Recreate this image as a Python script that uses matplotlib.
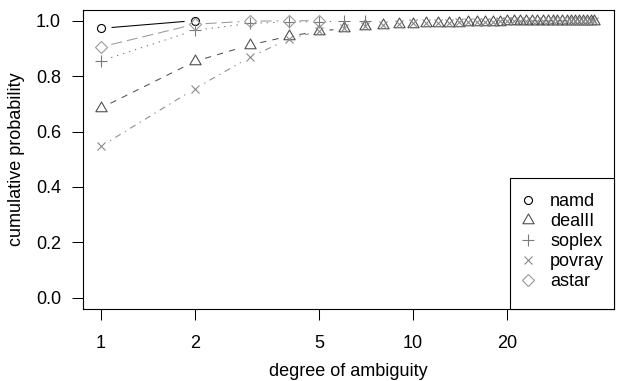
import numpy as np
import matplotlib
matplotlib.use("Agg")
import matplotlib.pyplot as plt
from matplotlib.lines import Line2D
from matplotlib.patches import Rectangle
from matplotlib.path import Path
from matplotlib.ticker import NullLocator

plt.rcParams["font.family"] = ["Liberation Sans", "DejaVu Sans"]
plt.rcParams["lines.scale_dashes"] = False

# cumulative probability per degree of ambiguity, one pair of lists per benchmark
namd_x = [1, 2]
namd_y = [0.972, 1.0]

dealii_x = [1, 2, 3, 4, 5, 6, 7, 8, 9, 10, 11, 12, 13, 14, 15, 16, 17, 18, 19,
            20, 21, 22, 23, 24, 25, 26, 27, 28, 29, 30, 31, 32, 33, 34, 35, 36, 37, 38]
dealii_y = [0.685, 0.853, 0.912, 0.944, 0.961, 0.972, 0.979, 0.983, 0.986, 0.988,
            0.990, 0.991, 0.992, 0.993, 0.994, 0.995, 0.995, 0.996, 0.996, 0.997,
            0.997, 0.997, 0.998, 0.998, 0.998, 0.998, 0.999, 0.999, 0.999, 0.999,
            0.999, 1.0, 1.0, 1.0, 1.0, 1.0, 1.0, 1.0]

soplex_x = [1, 2, 3, 4, 5, 6, 7]
soplex_y = [0.855, 0.965, 0.990, 0.995, 0.996, 0.998, 1.0]

povray_x = [1, 2, 3, 4, 5, 6, 7, 8, 9, 10, 11, 12, 13, 14, 15, 16, 17, 18, 19,
            20, 21, 22, 23, 24, 25, 26, 27, 28, 29, 30, 31, 32, 33, 34, 35, 36, 37, 38]
povray_y = [0.547, 0.755, 0.868, 0.934, 0.962, 0.974, 0.981, 0.985, 0.988, 0.990,
            0.991, 0.992, 0.993, 0.994, 0.995, 0.995, 0.996, 0.996, 0.997, 0.997,
            0.997, 0.998, 0.998, 0.998, 0.998, 0.999, 0.999, 0.999, 0.999, 0.999,
            1.0, 1.0, 1.0, 1.0, 1.0, 1.0, 1.0, 1.0]

astar_x = [1, 2, 3, 4, 5]
astar_y = [0.905, 0.987, 0.998, 0.999, 1.0]

names = ["namd", "dealII", "soplex", "povray", "astar"]
xticks = [1, 2, 5, 10, 20]
yticks = [0.0, 0.2, 0.4, 0.6, 0.8, 1.0]

# R-like point symbols (sizes in points, derived from ~10.7px symbol unit)
PX = 0.72
tri = Path([(0, 1), (-0.866, -0.5), (0.866, -0.5), (0, 1)],
           [Path.MOVETO, Path.LINETO, Path.LINETO, Path.CLOSEPOLY])
styles = [
    dict(marker="o", ms=8.0 * PX, color="#000000", dashes=None),
    dict(marker=tri, ms=13.0 * PX, color="#505050", dashes=(4.5, 4.5)),
    dict(marker="+", ms=11.3 * PX, color="#7a7a7a", dashes=(1.0, 3.5)),
    dict(marker="x", ms=8.0 * PX, color="#8a8a8a", dashes=(1.0, 3.5, 4.5, 3.5)),
    dict(marker="D", ms=8.0 * PX, color="#9a9a9a", dashes=(8.0, 3.5)),
]
series = [(namd_x, namd_y), (dealii_x, dealii_y), (soplex_x, soplex_y),
          (povray_x, povray_y), (astar_x, astar_y)]

fig = plt.figure(figsize=(6.21, 3.81), dpi=100)
ax = fig.add_axes([83 / 621, 1 - 309 / 381, (614 - 83) / 621, (309 - 9.5) / 381])
ax.set_xscale("log")
ax.set_xlim(0.875, 44.0)
ax.set_ylim(-0.04, 1.04)


def gapped_line(ax, x, y, gap, color, dashes):
    # type="b": segments between points, trimmed around each symbol
    pts = ax.transData.transform(np.column_stack([x, y]))
    inv = ax.transData.inverted()
    for p0, p1 in zip(pts[:-1], pts[1:]):
        d = p1 - p0
        L = np.hypot(d[0], d[1])
        if L <= 2 * gap:
            continue
        u = d / L
        seg = inv.transform(np.array([p0 + u * gap, p1 - u * gap]))
        kw = dict(color=color, lw=0.75, solid_capstyle="butt", dash_capstyle="butt")
        if dashes is not None:
            kw["dashes"] = dashes
        ax.plot(seg[:, 0], seg[:, 1], **kw)


for (x, y), st in zip(series, styles):
    gapped_line(ax, x, y, 10.5, st["color"], st["dashes"])
    ax.plot(x, y, linestyle="none", marker=st["marker"], ms=st["ms"],
            mfc="none", mec=st["color"], mew=0.8)

ax.set_xticks(xticks)
ax.set_xticklabels([str(t) for t in xticks])
ax.xaxis.set_minor_locator(NullLocator())
ax.set_yticks(yticks)
ax.set_yticklabels([f"{t:.1f}" for t in yticks])
ax.tick_params(length=7.9, width=0.75, labelsize=13, color="black")
ax.tick_params(axis="x", pad=11)
ax.tick_params(axis="y", pad=8)
for sp in ax.spines.values():
    sp.set_linewidth(0.8)
ax.set_xlabel("degree of ambiguity", fontsize=13, labelpad=8)
ax.set_ylabel("cumulative probability", fontsize=13, labelpad=8)

# legend box (bottom-right, R style)
ax.add_patch(Rectangle(((510 - 83) / 531, 0), 1 - (510 - 83) / 531, (309 - 178) / 299.5,
                       transform=ax.transAxes, facecolor="white", edgecolor="black",
                       lw=0.8, zorder=5, clip_on=False))
handles = [Line2D([], [], linestyle="none", marker=st["marker"], ms=st["ms"],
                  mfc="none", mec=st["color"], mew=0.8) for st in styles]
leg = ax.legend(handles, names, loc="upper left",
                bbox_to_anchor=((519 - 83) / 531, (309 - 193) / 299.5),
                frameon=False, fontsize=13, borderpad=0, borderaxespad=0,
                handlelength=1.0, handletextpad=0.72, labelspacing=0.17)
leg.set_zorder(6)

fig.savefig("out.png", dpi=100)
